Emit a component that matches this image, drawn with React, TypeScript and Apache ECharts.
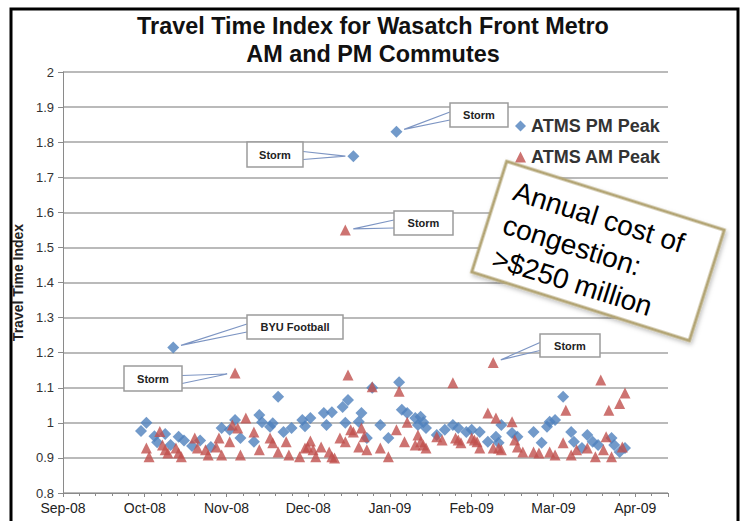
import React, { useEffect, useRef } from 'react';
import * as echarts from 'echarts';

// ---------- data ----------
const titleLines = ['Travel Time Index for Wasatch Front Metro', 'AM and PM Commutes'];
const yAxisTitle = 'Travel Time Index';
const monthLabels = ['Sep-08', 'Oct-08', 'Nov-08', 'Dec-08', 'Jan-09', 'Feb-09', 'Mar-09', 'Apr-09'];
const monthStep = 30.4; // days between labelled ticks (days counted from 1 Sep 2008)
const xMaxDay = 225;
const seriesNames = ['ATMS PM Peak', 'ATMS AM Peak'];

// ATMS PM Peak (day offset from 1 Sep 2008, travel time index)
const pmDays = [29, 31, 34, 35, 38, 40, 41, 43, 45, 48, 51, 55, 59, 62, 64, 66, 71, 73, 74, 77, 78, 80, 82, 85, 89, 90, 92,
  97, 98, 100, 104, 105, 106, 108, 110, 111, 113, 115, 118, 121, 124, 125, 126, 128, 131, 132, 133, 134, 135, 139, 142,
  145, 147, 150, 152, 155, 158, 161, 162, 163, 167, 169, 175, 178, 180, 181, 183, 186, 189, 190, 193, 195, 197, 199,
  204, 205, 207, 209];
const pmValues = [0.977, 1.0, 0.962, 0.945, 0.968, 0.937, 1.215, 0.96, 0.95, 0.934, 0.95, 0.931, 0.985, 0.98, 1.008, 0.957,
  0.946, 1.022, 1.002, 0.989, 0.999, 1.074, 0.974, 0.985, 1.008, 0.99, 1.014,
  1.028, 0.994, 1.03, 1.045, 1.0, 1.065, 1.76, 1.003, 1.028, 0.957, 1.1, 0.994, 0.957, 1.83, 1.116, 1.037, 1.028, 1.014,
  0.994, 1.017, 1.002, 0.985, 0.965, 0.98,
  0.994, 0.985, 0.974, 0.98, 0.974, 0.946, 0.96, 0.943, 0.994, 0.971, 0.96, 0.974, 0.943, 0.989, 1.003, 1.008, 1.074,
  0.974, 0.946, 0.928, 0.965, 0.946, 0.937,
  0.957, 0.937, 0.917, 0.928];

// ATMS AM Peak
const amDays = [31, 32, 36, 37, 38, 39, 42, 43, 44, 49, 50, 53, 54, 57, 58, 59, 62, 63, 64, 65, 66, 68, 71, 73, 77, 78,
  80, 83, 84, 88, 90, 91, 92, 93, 94, 96, 99, 100, 101, 103, 105, 105, 106, 107, 108, 110, 111, 112, 113, 115, 118,
  121, 124, 125, 127, 128, 131, 132, 133, 134, 135, 139, 141, 145, 146, 147, 148, 152, 153, 154, 155, 158, 160, 160,
  161, 162, 163, 167, 168, 169, 171, 175, 177, 181, 183, 186, 187, 189, 191, 195, 198, 200, 201, 202, 203, 204, 207,
  208, 209];
const amValues = [0.928, 0.903, 0.975, 0.937, 0.923, 0.914, 0.928, 0.914, 0.903, 0.957, 0.928, 0.923, 0.908, 0.931,
  0.957, 0.908, 0.946, 0.994, 1.142, 0.985, 0.908, 1.014, 0.974, 0.923, 0.957, 0.943,
  0.917, 0.946, 0.908, 0.903, 0.928, 0.931, 0.948, 0.923, 0.903, 0.931, 0.917, 0.903, 0.9, 0.957, 1.55, 0.946, 1.136,
  0.98, 0.974, 0.931, 0.985, 0.96, 0.923, 1.103, 0.928,
  0.903, 0.98, 1.09, 0.946, 1.002, 0.937, 0.965, 0.946, 0.937, 0.928, 0.96, 0.951, 1.114, 0.957, 0.951, 0.943, 0.957,
  0.951, 0.946, 0.928, 1.028, 1.172, 0.928,
  1.014, 0.928, 0.923, 1.003, 0.951, 0.931, 0.917, 0.917, 0.914, 0.917, 0.908, 0.943, 1.036, 0.908, 0.923, 0.928,
  0.903, 1.122, 0.923, 0.96, 1.036, 0.903, 1.055,
  0.931, 1.085];

// callouts: which point they describe (series index + value), and their label
const calloutLabels = ['Storm', 'Storm', 'Storm', 'BYU Football', 'Storm', 'Storm'];
const calloutSeries = [0, 0, 1, 0, 1, 1];
const calloutValues = [1.83, 1.76, 1.55, 1.215, 1.142, 1.172];
// box layout [x, y, w, h]
const calloutBoxes = [
  [450, 103, 58, 24],
  [247, 142, 56, 25],
  [394, 211, 59, 24],
  [247, 315, 96, 24],
  [124, 366, 58, 25],
  [540, 334, 60, 23],
];
const noteText = 'Annual cost of\ncongestion:\n>$250 million';

const FONT = '"Liberation Sans", Arial, Helvetica, sans-serif';
const BLUE = '#4F81BD';
const RED = '#C0504D';

export default function App() {
  const ref = useRef<HTMLDivElement>(null);

  useEffect(() => {
    const chart = echarts.init(ref.current as HTMLDivElement, null, { renderer: 'svg' });

    const pmData = pmDays.map((d, i) => [d, pmValues[i]]);
    const amData = amDays.map((d, i) => [d, amValues[i]]);

    chart.setOption({
      animation: false,
      backgroundColor: '#ffffff',
      title: {
        text: titleLines.join('\n'),
        left: 368,
        top: 7,
        textAlign: 'center',
        textStyle: { fontFamily: FONT, fontSize: 23.4, fontWeight: 'bold', color: '#111', lineHeight: 28 },
      },
      legend: {
        orient: 'vertical',
        left: 510,
        top: 112,
        itemGap: 13,
        itemWidth: 11,
        itemHeight: 11,
        data: seriesNames,
        textStyle: { fontFamily: FONT, fontSize: 18, fontWeight: 'bold', color: '#333' },
      },
      grid: { left: 63, right: 83, top: 72, bottom: 28, containLabel: false },
      xAxis: {
        type: 'value',
        min: 0,
        max: xMaxDay,
        interval: monthStep,
        splitLine: { show: false },
        axisLine: { show: true, lineStyle: { color: '#8a8a8a', width: 1 } },
        axisTick: { show: true, length: 4, lineStyle: { color: '#8a8a8a' } },
        minorTick: { show: true, splitNumber: 5, length: 3, lineStyle: { color: '#8a8a8a' } },
        axisLabel: {
          fontFamily: FONT,
          fontSize: 14,
          color: '#222',
          margin: 8,
          showMaxLabel: false,
          formatter: (v: number) => {
            const i = Math.round(v / monthStep);
            return Math.abs(v - i * monthStep) < 0.01 && i < monthLabels.length ? monthLabels[i] : '';
          },
        },
      },
      yAxis: {
        type: 'value',
        min: 0.8,
        max: 2,
        interval: 0.1,
        name: yAxisTitle,
        nameLocation: 'middle',
        nameRotate: 90,
        nameGap: 37,
        nameTextStyle: { fontFamily: FONT, fontSize: 14, fontWeight: 'bold', color: '#222' },
        axisLine: { show: true, lineStyle: { color: '#8a8a8a', width: 1 } },
        axisTick: { show: true, length: 5, lineStyle: { color: '#8a8a8a' } },
        splitLine: { show: true, lineStyle: { color: '#a3a3a3', width: 1.5 } },
        axisLabel: { fontFamily: FONT, fontSize: 13, color: '#333', margin: 9 },
      },
      series: [
        {
          name: seriesNames[0],
          type: 'scatter',
          symbol: 'diamond',
          symbolSize: 12,
          itemStyle: { color: BLUE },
          data: pmData,
        },
        {
          name: seriesNames[1],
          type: 'scatter',
          symbol: 'triangle',
          symbolSize: 11,
          itemStyle: { color: RED },
          data: amData,
        },
      ],
    });

    const graphics: any[] = [];
    // outer frame
    graphics.push({
      type: 'rect',
      shape: { x: 11, y: 9, width: 727, height: 540 },
      style: { fill: 'none', stroke: '#000', lineWidth: 3 },
      z: 200,
      silent: true,
    });

    calloutLabels.forEach((label, k) => {
      const s = calloutSeries[k];
      const days = s === 0 ? pmDays : amDays;
      const vals = s === 0 ? pmValues : amValues;
      const idx = vals.indexOf(calloutValues[k]);
      const p = chart.convertToPixel({ seriesIndex: s }, [days[idx], vals[idx]]) as number[];
      const [bx, by, bw, bh] = calloutBoxes[k];
      const cy = by + bh / 2 + 1;
      const edgeX = p[0] < bx ? bx : bx + bw;
      const dx = edgeX - p[0];
      const dy = cy - p[1];
      const len = Math.sqrt(dx * dx + dy * dy) || 1;
      const tip = [p[0] + (dx / len) * 8, p[1] + (dy / len) * 8];
      graphics.push({
        type: 'polyline',
        shape: { points: [[edgeX, cy - 4], tip, [edgeX, cy + 4]] },
        style: { fill: 'none', stroke: '#7d95c3', lineWidth: 1.2 },
        z: 100,
        silent: true,
      });
      graphics.push({
        type: 'rect',
        shape: { x: bx, y: by, width: bw, height: bh },
        style: { fill: '#fff', stroke: '#9c9c9c', lineWidth: 1.5 },
        z: 101,
        silent: true,
      });
      graphics.push({
        type: 'text',
        x: bx + bw / 2,
        y: by + bh / 2,
        style: {
          text: label,
          fontFamily: FONT,
          fontSize: 11,
          fontWeight: 'bold',
          fill: '#222',
          align: 'center',
          verticalAlign: 'middle',
        },
        z: 102,
        silent: true,
      });
    });

    // rotated note
    graphics.push({
      type: 'group',
      x: 598,
      y: 251,
      rotation: (-17.5 * Math.PI) / 180,
      z: 150,
      children: [
        {
          type: 'rect',
          shape: { x: -114, y: -58, width: 228, height: 116 },
          style: { fill: '#fff', stroke: '#b3a574', lineWidth: 3, shadowBlur: 4, shadowColor: 'rgba(0,0,0,0.25)', shadowOffsetX: 2, shadowOffsetY: 2 },
          z: 150,
        },
        {
          type: 'text',
          x: -98,
          y: -50,
          style: {
            text: noteText,
            fontFamily: FONT,
            fontSize: 28,
            lineHeight: 35,
            fill: '#000',
            align: 'left',
            verticalAlign: 'top',
          },
          z: 151,
        },
      ],
    });

    chart.setOption({ graphic: graphics });

    return () => chart.dispose();
  }, []);

  return (
    <div
      ref={ref}
      style={{ position: 'fixed', left: 0, top: 0, width: 751, height: 521, background: '#fff' }}
    />
  );
}
